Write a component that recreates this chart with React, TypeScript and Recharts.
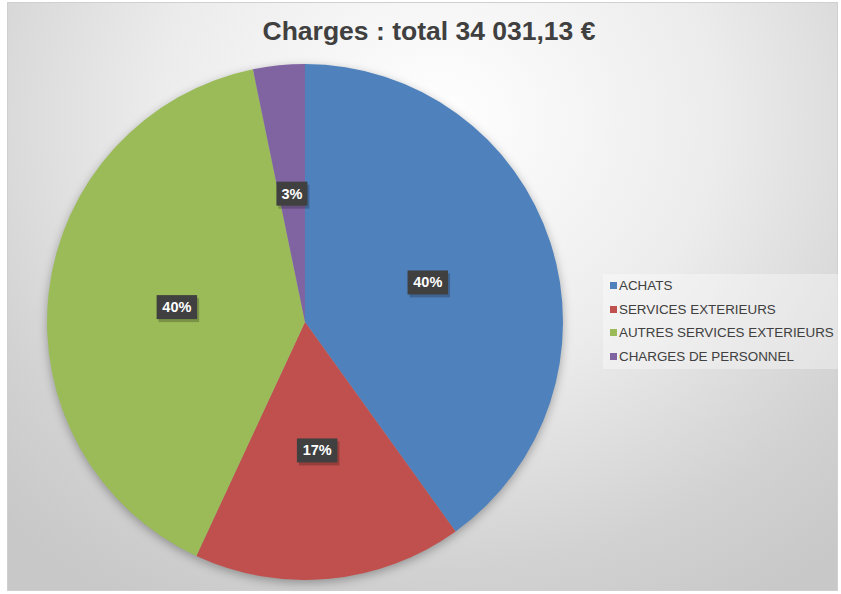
import { Cell, Legend, Pie, PieChart } from 'recharts'

const categories = ['ACHATS', 'SERVICES EXTERIEURS', 'AUTRES SERVICES EXTERIEURS', 'CHARGES DE PERSONNEL']
const amounts = [13640, 5730, 13560, 1101.13]
const colors = ['#4f81bd', '#c0504d', '#9bbb59', '#8064a2']
const title = 'Charges : total 34 031,13 €'

const data = categories.map((name, i) => ({ name, value: amounts[i] }))
const RAD = Math.PI / 180
const font = '"Liberation Sans", Arial, sans-serif'

function PctLabel(props: any) {
  const { cx, cy, midAngle, outerRadius, percent } = props
  const r = outerRadius * 0.5
  const x = cx + r * Math.cos(-midAngle * RAD)
  const y = cy + r * Math.sin(-midAngle * RAD)
  const text = `${Math.round(percent * 100)}%`
  const w = text.length * 9.5 + 12
  return (
    <g>
      <rect x={x - w / 2 + 2} y={y - 12 + 3} width={w} height={24} fill="rgba(0,0,0,0.22)" />
      <rect x={x - w / 2} y={y - 12} width={w} height={24} fill="#404040" />
      <text x={x} y={y + 5} textAnchor="middle" fill="#fff" fontSize={14.5} fontWeight="bold" fontFamily={font}>
        {text}
      </text>
    </g>
  )
}

function LegendBox() {
  return (
    <div style={{ background: 'rgba(255,255,255,0.35)', padding: '0 0 0 7px', height: 95, width: 236, boxSizing: 'border-box' }}>
      {categories.map((c, i) => (
        <div key={c} style={{ display: 'flex', alignItems: 'center', height: 23.5, fontSize: 13.4, color: '#404040', fontFamily: font }}>
          <span style={{ width: 7, height: 7, background: colors[i], display: 'inline-block', marginRight: 2 }} />
          {c}
        </div>
      ))}
    </div>
  )
}

export default function App() {
  return (
    <div style={{ position: 'absolute', left: 0, top: 0, width: 841, height: 594, background: '#fff' }}>
      <style>{`.recharts-pie-sectors, .recharts-pie > .recharts-layer:first-child { filter: drop-shadow(0 3px 5px rgba(0,0,0,0.3)); }`}</style>
      <div
        style={{
          position: 'absolute', left: 7, top: 2, width: 831, height: 589,
          border: '1px solid #d0d0d0', boxSizing: 'border-box',
          background: 'radial-gradient(ellipse 75% 95% at 52% 20%, #ffffff 0%, #ececec 45%, #d2d2d2 80%, #c8c8c8 100%)',
        }}
      />
      <div style={{ position: 'absolute', left: 0, top: 0 }}>
        <PieChart width={841} height={594} margin={{ top: 0, right: 0, bottom: 0, left: 0 }}>
          <text x={429} y={40} textAnchor="middle" fontSize={26.5} fontWeight="bold" fill="#404040" fontFamily={font}>
            {title}
          </text>
          <Pie
            data={data}
            dataKey="value"
            nameKey="name"
            cx={305}
            cy={322}
            outerRadius={258}
            startAngle={90}
            endAngle={-270}
            stroke="none"
            labelLine={false}
            label={PctLabel}
            isAnimationActive={false}
          >
            {data.map((d, i) => <Cell key={d.name} fill={colors[i]} />)}
          </Pie>
          <Legend content={LegendBox} wrapperStyle={{ position: 'absolute', left: 603, top: 274, width: 236 }} />
        </PieChart>
      </div>
    </div>
  )
}
